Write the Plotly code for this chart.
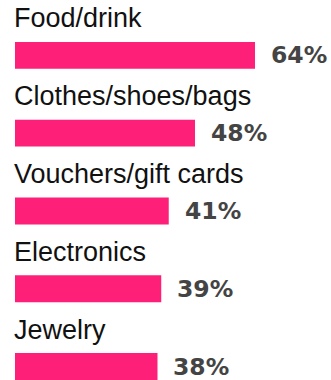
import plotly.graph_objects as go

categories = ["Food/drink", "Clothes/shoes/bags", "Vouchers/gift cards", "Electronics", "Jewelry"]
shares = [64, 48, 41, 39, 38]
value_labels = ["64%", "48%", "41%", "39%", "38%"]

BAR_COLOR = "#fe1f79"
LABEL_COLOR = "#444444"
NAME_FONT = "Liberation Sans, Arial, sans-serif"
VALUE_FONT = "DejaVu Sans, Verdana, sans-serif"

fig = go.Figure(
    go.Bar(
        x=shares,
        y=categories,
        orientation="h",
        width=0.346,
        marker=dict(color=BAR_COLOR, line=dict(width=0)),
        hoverinfo="skip",
    )
)

# category name sits above each bar
for cat in categories:
    fig.add_annotation(
        x=0, xref="paper", y=cat, yref="y",
        text=cat, showarrow=False,
        xanchor="left", yanchor="bottom", xshift=-3, yshift=20,
        font=dict(family=NAME_FONT, size=27, color="#111111"),
    )

# percentage to the right of each bar
for cat, val, lab in zip(categories, shares, value_labels):
    fig.add_annotation(
        x=val, xref="x", y=cat, yref="y",
        text="<b>" + lab + "</b>", showarrow=False,
        xanchor="left", yanchor="middle", xshift=14,
        font=dict(family=VALUE_FONT, size=23.5, color=LABEL_COLOR),
    )

fig.update_layout(
    width=331, height=380,
    margin=dict(l=15, r=0, t=0, b=0),
    paper_bgcolor="white", plot_bgcolor="white",
    showlegend=False,
    xaxis=dict(range=[0, 84.27], visible=False, fixedrange=True),
    yaxis=dict(
        type="category",
        categoryorder="array", categoryarray=categories,
        range=[4.173, -0.7115],
        visible=False, fixedrange=True,
    ),
)

fig.write_html("out.html", config={"displayModeBar": False})
